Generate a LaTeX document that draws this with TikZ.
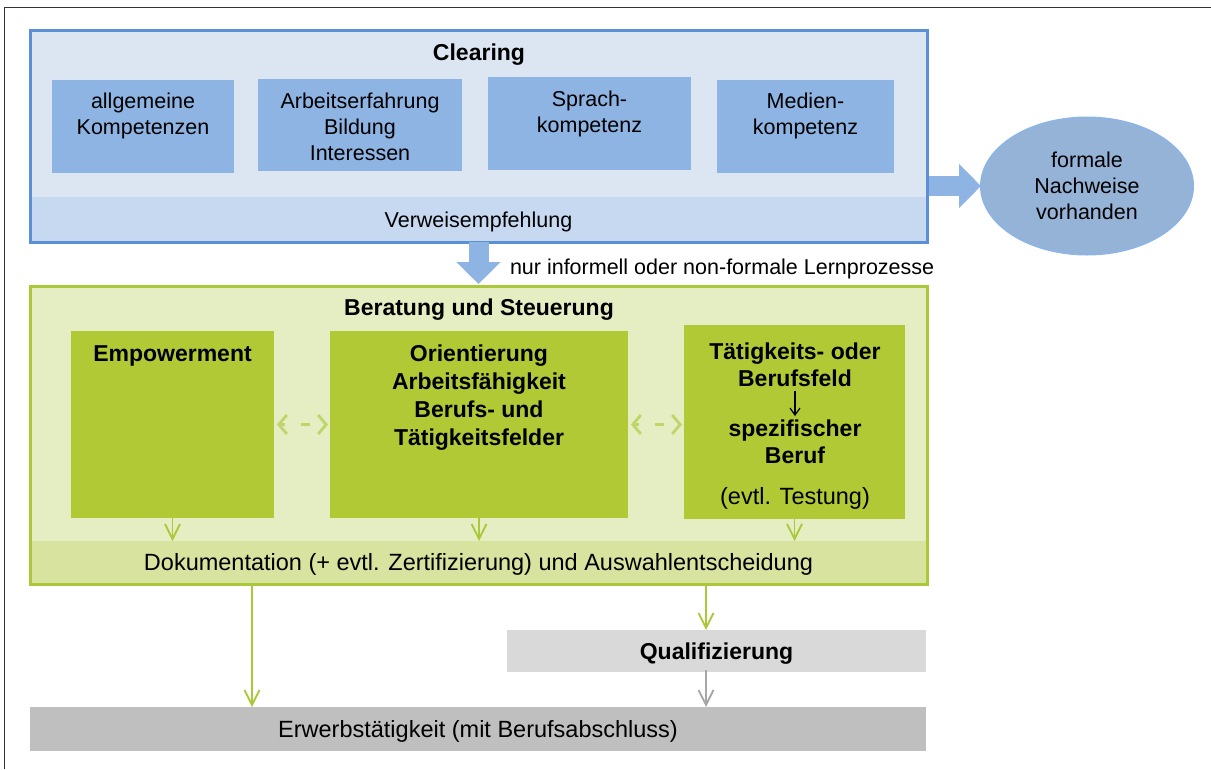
\documentclass[tikz,border=0pt]{standalone}
\usepackage{fontspec}
\setmainfont{Liberation Sans}
\usepackage{xcolor}
\usetikzlibrary{arrows.meta, shapes.geometric, positioning}

\definecolor{clearline}{HTML}{5B8FD6}
\definecolor{clearfill}{HTML}{DCE6F2}
\definecolor{clearband}{HTML}{C6D9F1}
\definecolor{clearbox}{HTML}{8EB4E3}
\definecolor{ovalfill}{HTML}{95B3D7}
\definecolor{greenline}{HTML}{ABC73A}
\definecolor{greenfill}{HTML}{E5EDC3}
\definecolor{greenband}{HTML}{D7E39E}
\definecolor{greenbox}{HTML}{B0C934}
\definecolor{greenarrow}{HTML}{AAC83A}
\definecolor{greendash}{HTML}{BFD56A}
\definecolor{qualfill}{HTML}{D9D9D9}
\definecolor{erwerbfill}{HTML}{BFBFBF}
\definecolor{grayarrow}{HTML}{A6A6A6}

\begin{document}
\begin{tikzpicture}[x=1pt, y=-1pt,
    every node/.style={font=\fontsize{21.5}{26}\selectfont, inner sep=0pt, outer sep=0pt, align=center},
    area/.style={rectangle, minimum width=#1},
    oneline/.style={text height=21pt, text depth=4pt},
    big/.style={font=\fontsize{23.5}{27}\selectfont},
    bold/.style={font=\fontsize{23}{27}\selectfont\bfseries},
    greenlink/.style={draw=greenarrow, line width=1.8pt, -{Straight Barb[length=15pt, width=15pt]}},
    dashlink/.style={draw=greendash, line width=2.8pt, dash pattern=on 5pt off 16pt on 9pt off 30pt,
        {Straight Barb[length=8pt, width=19pt]}-{Straight Barb[length=8pt, width=19pt]}},
    blockarrow/.style={draw=clearbox, line width=20pt, -{Triangle[length=22pt, width=43pt]}}]

    \useasboundingbox (0,0) rectangle (1211,769);
    \draw[line width=1pt, black!80] (4,769) -- (4,7) -- (1211,7);

    % Clearing
    \node[area=897pt, minimum height=212pt, fill=clearfill, draw=clearline, line width=3pt] at (478.5, 136) (clearing) {};
    \node[area=894pt, minimum height=43.5pt, fill=clearband, oneline] at (478.5, 218.75) (verweis) {Verweisempfehlung};
    \node[bold, oneline] at (479, 52) (cleartitle) {Clearing};
    \node[area=182pt, minimum height=93pt, fill=clearbox] at (143, 126.5) (allg) {};
    \node[area=204pt, minimum height=92pt, fill=clearbox] at (360, 125) (arbeit) {};
    \node[area=203pt, minimum height=93pt, fill=clearbox] at (589.5, 123.5) (sprache) {};
    \node[area=177pt, minimum height=93pt, fill=clearbox] at (805.5, 126.5) (medien) {};
    \node at (143, 116) (allgtext) {allgemeine\\Kompetenzen};
    \node at (360, 127) (arbeittext) {Arbeitserfahrung\\Bildung\\Interessen};
    \node at (589.5, 113.5) (sprachetext) {Sprach-\\kompetenz};
    \node at (805.5, 116) (medientext) {Medien-\\kompetenz};

    \node[ellipse, minimum width=212pt, minimum height=137pt, fill=ovalfill, draw=clearbox, line width=2pt]
        at (1087, 186) (formal) {formale\\Nachweise\\vorhanden};

    % Beratung
    \node[area=897pt, minimum height=298pt, fill=greenfill, draw=greenline, line width=3pt] at (478.5, 435) (beratung) {};
    \node[area=894pt, minimum height=41.5pt, fill=greenband, big, oneline] at (478.5, 561.75) (doku)
        {Dokumentation (+ evtl. Zertifizierung) und Auswahlentscheidung};
    \node[bold, oneline] at (479, 307) (beratitle) {Beratung und Steuerung};
    \node[area=203pt, minimum height=187pt, fill=greenbox] at (172.5, 424.5) (empow) {};
    \node[area=298pt, minimum height=187pt, fill=greenbox] at (479, 424.5) (orient) {};
    \node[area=221pt, minimum height=194pt, fill=greenbox] at (794.5, 422) (taetig) {};
    \node[bold, oneline] at (172.5, 353) (empowtext) {Empowerment};
    \node[bold, font=\fontsize{23}{28}\selectfont\bfseries] at (479, 397.5) (orienttext)
        {Orientierung\\Arbeitsfähigkeit\\Berufs- und\\Tätigkeitsfelder};
    \node[bold] at (795, 364.5) (feldtext) {Tätigkeits- oder\\Berufsfeld};
    \node[bold] at (795, 442) (berufttext) {spezifischer\\Beruf};
    \node[big, oneline] at (795, 496) (testtext) {(evtl. Testung)};

    \draw[line width=1.2pt, shorten <=5pt, shorten >=4pt, -{Straight Barb[length=7pt, width=10pt]}] (feldtext) -- (berufttext);
    \draw[dashlink, shorten <=3pt, shorten >=2pt] (empow) -- (orient);
    \draw[dashlink, shorten <=3pt, shorten >=2pt] (orient.east) -- (orient.east -| taetig.west);
    \draw[greenlink] (empow.south) -- (empow.south |- doku.north);
    \draw[greenlink] (orient.south) -- (orient.south |- doku.north);
    \draw[greenlink] (taetig.south) -- (taetig.south |- doku.north);

    % Block arrows
    \draw[blockarrow] (clearing.south) -- ([yshift=2pt]beratung.north);
    \draw[blockarrow, shorten <=1.5pt] (clearing.east |- formal.west) -- (formal.west);
    \node[anchor=west, oneline] at (510, 266) (informell) {nur informell oder non-formale Lernprozesse};

    % Unten
    \node[area=419pt, minimum height=42pt, fill=qualfill, bold, oneline] at (716.5, 651) (qual) {Qualifizierung};
    \node[area=896pt, minimum height=44pt, fill=erwerbfill, big, oneline] at (478, 729) (erwerb) {Erwerbstätigkeit (mit Berufsabschluss)};
    \coordinate (leftout) at (252, 586);
    \coordinate (rightout) at (706, 586);
    \draw[greenlink] (leftout) -- (leftout |- erwerb.north);
    \draw[greenlink] (rightout) -- (rightout |- qual.north);
    \draw[greenlink, draw=grayarrow] ([yshift=2pt]rightout |- qual.south) -- (rightout |- erwerb.north);
\end{tikzpicture}
\end{document}
